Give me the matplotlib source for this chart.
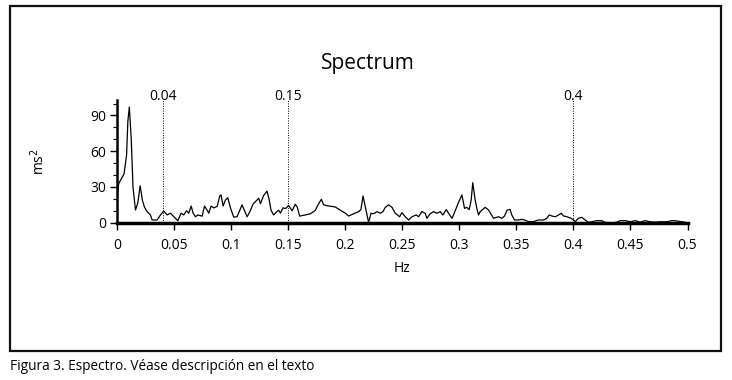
import matplotlib
matplotlib.use("Agg")
import matplotlib.pyplot as plt
from matplotlib.patches import Rectangle
from matplotlib.ticker import MultipleLocator

freq = [0.0000, 0.0016, 0.0045, 0.0062, 0.0084, 0.0095, 0.0108, 0.0125, 0.0140, 0.0162,
        0.0182, 0.0203, 0.0222, 0.0241, 0.0264, 0.0293, 0.0308, 0.0352, 0.0381, 0.0410,
        0.0439, 0.0469, 0.0498, 0.0533, 0.0562, 0.0585, 0.0609, 0.0629, 0.0650, 0.0667,
        0.0688, 0.0708, 0.0746, 0.0767, 0.0790, 0.0804, 0.0825, 0.0848, 0.0878, 0.0901,
        0.0912, 0.0930, 0.0950, 0.0971, 0.0994, 0.1023, 0.1052, 0.1076, 0.1096, 0.1120,
        0.1140, 0.1163, 0.1193, 0.1213, 0.1242, 0.1257, 0.1286, 0.1315, 0.1333, 0.1350,
        0.1373, 0.1397, 0.1417, 0.1432, 0.1455, 0.1480, 0.1505, 0.1534, 0.1563, 0.1580,
        0.1601, 0.1622, 0.1651, 0.1695, 0.1724, 0.1738, 0.1768, 0.1791, 0.1811, 0.1855,
        0.1913, 0.1957, 0.2001, 0.2030, 0.2074, 0.2118, 0.2138, 0.2156, 0.2176, 0.2205,
        0.2226, 0.2249, 0.2278, 0.2308, 0.2331, 0.2351, 0.2380, 0.2410, 0.2439, 0.2477,
        0.2497, 0.2526, 0.2556, 0.2585, 0.2622, 0.2643, 0.2672, 0.2701, 0.2716, 0.2745,
        0.2775, 0.2804, 0.2833, 0.2856, 0.2886, 0.2906, 0.2936, 0.2964, 0.2993, 0.3023,
        0.3046, 0.3066, 0.3087, 0.3104, 0.3118, 0.3139, 0.3154, 0.3168, 0.3183, 0.3227,
        0.3256, 0.3300, 0.3344, 0.3373, 0.3396, 0.3420, 0.3446, 0.3460, 0.3484, 0.3519,
        0.3548, 0.3571, 0.3606, 0.3650, 0.3694, 0.3738, 0.3767, 0.3788, 0.3812, 0.3841,
        0.3870, 0.3894, 0.3914, 0.3943, 0.3973, 0.4002, 0.4015, 0.4044, 0.4073, 0.4103,
        0.4132, 0.4161, 0.4205, 0.4249, 0.4278, 0.4307, 0.4351, 0.4380, 0.4410, 0.4454,
        0.4498, 0.4542, 0.4585, 0.4629, 0.4673, 0.4717, 0.4761, 0.4818, 0.4862, 0.4905,
        0.4949, 0.4978]
power = [22, 33, 38, 41, 57, 85, 97, 70, 30, 10.7,
         16.5, 31, 19, 13, 9.3, 6.5, 2.3, 2.3, 6.5, 9.8,
         6.5, 8, 5, 1.7, 8, 6.5, 10, 8, 14, 8,
         5, 6.5, 5.5, 14, 10.5, 8, 14, 12.4, 13.7, 22.5,
         23.3, 14, 19, 21, 12.4, 4.7, 5, 10.5, 15, 9.5,
         5, 9, 15.7, 17.7, 20.5, 16, 23, 26.5, 19.5, 10.5,
         6.5, 9, 10.5, 8, 12.4, 12, 14.5, 10, 15.5, 13,
         5.5, 6, 6.5, 7.5, 9.3, 10.5, 16, 19.7, 15, 14,
         13.2, 10.5, 8, 5.6, 7.5, 9.3, 11, 22.5, 13.5, 0.3,
         7.9, 7.5, 9.3, 7.9, 9.3, 12.9, 15, 12.9, 7.9, 5,
         8.5, 5, 2.3, 5, 6.5, 5, 9.3, 7.9, 3.7, 7.5,
         9.3, 7.9, 9.3, 6.5, 11, 7.9, 3.7, 10, 17, 23.3,
         12, 12.9, 11, 19, 33.6, 19, 12, 6.5, 9.3, 12.9,
         10.7, 3.7, 5, 3.7, 5.6, 10.7, 11, 6.5, 2.3, 2.3,
         2.8, 2.3, 0.9, 0.9, 2.3, 2.3, 3.7, 6.5, 5.6, 5,
         6.5, 7.9, 5.6, 5, 4, 2.3, 0.8, 3.7, 4.5, 2.3,
         0.3, 0.8, 1.7, 1.7, 0.3, 0, 0, 0.5, 1.7, 1.7,
         0.8, 1.7, 0.5, 1.7, 0.8, 0.5, 0.8, 0.8, 1.7, 1.5,
         0.8, 0.5]

band_edges = [0.04, 0.15, 0.4]
band_labels = ["0.04", "0.15", "0.4"]
x_ticks = [0, 0.05, 0.1, 0.15, 0.2, 0.25, 0.3, 0.35, 0.4, 0.45, 0.5]
x_tick_labels = ["0", "0.05", "0.1", "0.15", "0.2", "0.25", "0.3", "0.35", "0.4", "0.45", "0.5"]
y_ticks = [0, 30, 60, 90]

plt.rcParams['font.family'] = ['Open Sans', 'DejaVu Sans']

W, H = 732, 380
fig = plt.figure(figsize=(W / 100, H / 100), dpi=100)

# outer frame
fig.patches.append(Rectangle((10 / W, 1 - 351 / H), 711 / W, 345 / H,
                             transform=fig.transFigure, fill=False,
                             edgecolor='#111111', linewidth=1.6))

ax = fig.add_axes([117 / W, 1 - 222.7 / H, 570.5 / W, 122.7 / H])
ax.plot(freq, power, color='black', linewidth=0.9)
ax.set_xlim(0, 0.5)
ax.set_ylim(0, 103)

for edge, lab in zip(band_edges, band_labels):
    ax.axvline(edge, color='black', linestyle=(0, (1, 1.5)), linewidth=0.7)
    ax.text(edge, 99.5, lab, ha='center', va='bottom', fontsize=10)

ax.set_xticks(x_ticks)
ax.set_xticklabels(x_tick_labels)
ax.set_yticks(y_ticks)
ax.yaxis.set_minor_locator(MultipleLocator(10))
ax.tick_params(axis='both', direction='out', labelsize=10, width=1, length=5, pad=3)
ax.tick_params(axis='y', which='minor', length=3, width=0.8)
ax.tick_params(axis='x', length=5, pad=6)

for s in ['top', 'right']:
    ax.spines[s].set_visible(False)
ax.spines['left'].set_linewidth(1.8)
ax.spines['bottom'].set_linewidth(2.5)

ax.set_xlabel('Hz', fontsize=10, labelpad=6)
ax.set_ylabel('ms$^2$', fontsize=10, labelpad=30)

fig.text(368 / W, 1 - 64 / H, 'Spectrum', ha='center', va='center', fontsize=15)
fig.text(10 / W, 1 - 366 / H, 'Figura 3. Espectro. Véase descripción en el texto',
         ha='left', va='center', fontsize=9.8)

fig.savefig('out.png', dpi=100, facecolor='white')
